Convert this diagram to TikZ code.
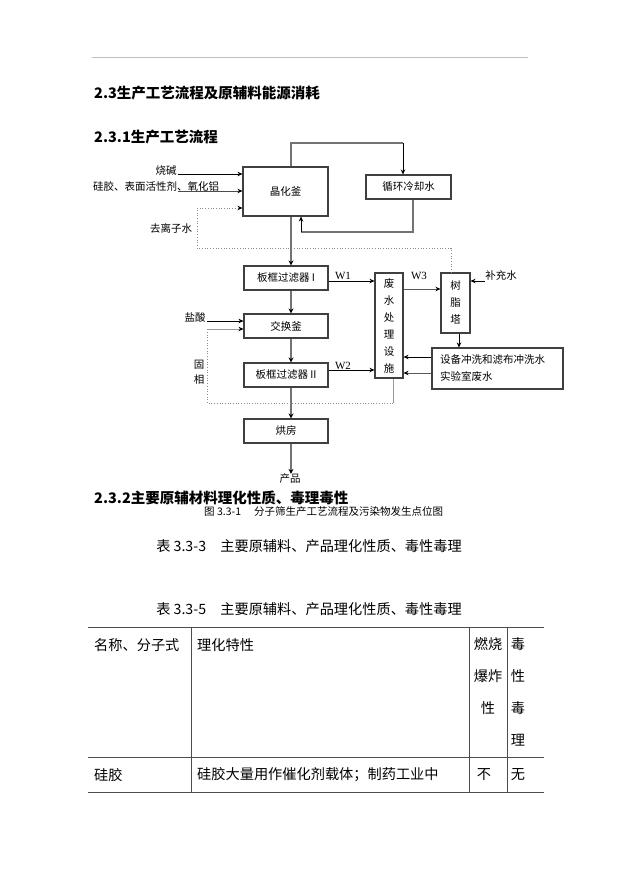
\documentclass[tikz,border=0pt]{standalone}
\usepackage{fontspec}
\setmainfont{Noto Sans CJK SC}
\newfontfamily\serifW{Liberation Serif}
\usetikzlibrary{arrows.meta}
\tikzset{
    procBox/.style={rectangle, draw=black!75, line width=1.1pt, minimum width=84pt, minimum height=24pt, inner sep=1pt, font=\fontsize{10.5}{12}\selectfont},
    tallBox/.style={rectangle, draw=black!75, line width=1.1pt, inner sep=1pt, align=center, font=\fontsize{10.5}{17}\selectfont},
    flowText/.style={inner sep=0pt, font=\fontsize{10.5}{12}\selectfont},
    arrow/.style={line width=0.7pt, -{Stealth[length=5pt, width=4.5pt, color=black]}},
    grayArrow/.style={draw=black!55, line width=1.6pt, -{Stealth[length=5pt, width=5pt, color=black]}},
    grayLine/.style={draw=black!55, line width=1.3pt},
    dotLine/.style={draw=black!45, line width=0.7pt, dotted},
    titleText/.style={inner sep=0pt, anchor=west, font=\fontsize{14.5}{18}\selectfont\bfseries},
    tableText/.style={inner sep=0pt, font=\fontsize{14.2}{32}\selectfont},
    tableLine/.style={draw=black!70, line width=1pt}
}

\begin{document}
\begin{tikzpicture}[x=1pt, y=-1pt]
    \useasboundingbox (0,0) rectangle (621,877);

    % page heading
    \draw [black!25, line width=0.8pt] (92,57) -- (528,57);
    \node (head23) [titleText] at (94,93) {2.3生产工艺流程及原辅料能源消耗};
    \node (head231) [titleText] at (94,137) {2.3.1生产工艺流程};

    % process boxes
    \node (crys) [procBox, minimum width=85pt, minimum height=49pt] at (285.5,191.5) {晶化釜};
    \node (cool) [procBox, minimum width=85pt] at (408.5,187) {循环冷却水};
    \node (filtA) [procBox] at (286,278) {板框过滤器 I};
    \node (exch) [procBox] at (286,326) {交换釜};
    \node (filtB) [procBox] at (286,375) {板框过滤器 II};
    \node (oven) [procBox] at (286,431) {烘房};
    \node (waste) [tallBox, minimum width=28pt, minimum height=105pt] at (389,325.5) {废\\水\\处\\理\\设\\施};
    \node (resin) [tallBox, minimum width=29pt, minimum height=60pt] at (455.5,303) {树\\脂\\塔};
    \node (wash) [procBox, minimum width=131pt, minimum height=41pt, text width=115pt, align=left, font=\fontsize{10.5}{17}\selectfont] at (497.5,368.5) {设备冲洗和滤布冲洗水\\实验室废水};

    % labels
    \node (soda) [flowText] at (166,171) {烧碱};
    \node (silica) [flowText] at (156,187) {硅胶、表面活性剂、氧化铝};
    \node (diw) [flowText] at (171,228) {去离子水};
    \node (hcl) [flowText] at (195,318) {盐酸};
    \node (solid) [flowText, align=center, font=\fontsize{10.5}{15}\selectfont] at (199,372) {固\\相};
    \node (fill) [flowText] at (501,275) {补充水};
    \node (prod) [flowText] at (290,479) {产品};
    \node (lw1) [flowText, font=\serifW\fontsize{11}{12}\selectfont] at (343,276) {W1};
    \node (lw2) [flowText, font=\serifW\fontsize{11}{12}\selectfont] at (343,366) {W2};
    \node (lw3) [flowText, font=\serifW\fontsize{11}{12}\selectfont] at (419,276) {W3};

    % bend points
    \coordinate (mx) at (291,0);
    \coordinate (topL) at (291,143);
    \coordinate (topR) at (403,143);
    \coordinate (retR) at (413,232);
    \coordinate (retL) at (301,232);
    \coordinate (sodaS) at (178,174);
    \coordinate (silS) at (178,191);
    \coordinate (dwR) at (451,248);
    \coordinate (dwL) at (197,248);
    \coordinate (dwT) at (197,208);
    \coordinate (hclS) at (207,321);
    \coordinate (sdT) at (207,329);
    \coordinate (sdL) at (207,403);
    \coordinate (sdR) at (393,403);
    \coordinate (fillS) at (485,281);

    % cooling water loop
    \draw [grayLine] (crys.north -| topL) -- (topL) -- (topR);
    \draw [arrow] (topR) -- (topR |- cool.north);
    \draw [grayLine] (cool.south -| retR) -- (retR) -- (retL);
    \draw [arrow] (retL) -- (retL |- crys.south);

    % raw materials
    \draw [arrow] (sodaS) -- (sodaS -| crys.west);
    \draw [arrow, draw=black!70] (silS) -- (silS -| crys.west);
    \draw [dotLine] (resin.north -| dwR) -- (dwR) -- (dwL) -- (dwT);
    \draw [arrow, dotLine] (dwT) -- (dwT -| crys.west);
    \draw [arrow] (hclS) -- (hclS -| exch.west);

    % main line
    \draw [grayArrow] (crys.south -| mx) -- (filtA.north -| mx);
    \draw [grayArrow] (filtA.south -| mx) -- (exch.north -| mx);
    \draw [grayArrow] (exch.south -| mx) -- (filtB.north -| mx);
    \draw [grayArrow] (filtB.south -| mx) -- (oven.north -| mx);
    \draw [grayArrow] (oven.south -| mx) -- (prod.north -| mx);

    % waste water
    \draw [arrow] ([yshift=-3pt]filtA.east) -- ([yshift=-3pt]filtA.east -| waste.west);
    \draw [arrow] ([yshift=5pt]filtB.east) -- ([yshift=5pt]filtB.east -| waste.west);
    \draw [arrow, draw=black!65] ([yshift=36.5pt]waste.east) -- ([yshift=36.5pt]waste.east -| resin.west);
    \draw [arrow] (fillS) -- (fillS -| resin.east);
    \draw [arrow] ([xshift=3.5pt]resin.south) -- ([xshift=3.5pt]resin.south |- wash.north);
    \draw [arrow] ([yshift=11.5pt]wash.west) -- ([yshift=11.5pt]wash.west -| waste.east);
    \draw [arrow, draw=black!65] ([yshift=-4.5pt]wash.west) -- ([yshift=-4.5pt]wash.west -| waste.east);
    \draw [draw=black!40, line width=0.8pt] (waste.south -| sdR) -- (sdR);
    \draw [dotLine] (sdR) -- (sdL) -- (sdT);
    \draw [arrow, draw=black!40] (sdT) -- (sdT -| exch.west);

    % captions
    \node (head232) [titleText] at (94,498) {2.3.2主要原辅材料理化性质、毒理毒性};
    \node (figCap) [flowText, anchor=west] at (204,512) {图 3.3-1\hspace{13pt}分子筛生产工艺流程及污染物发生点位图};
    \node (tabA) [tableText] at (309,546) {表 3.3-3\quad 主要原辅料、产品理化性质、毒性毒理};
    \node (tabB) [tableText] at (309,609) {表 3.3-5\quad 主要原辅料、产品理化性质、毒性毒理};

    % table
    \draw [tableLine] (88,627) -- (544,627);
    \draw [tableLine] (88,757) -- (544,757);
    \draw [tableLine] (88,792) -- (544,792);
    \foreach \cx in {191,469,507}
        \draw [tableLine] (\cx,627) -- (\cx,792);
    \node (cName) [tableText, anchor=west] at (94,645) {名称、分子式};
    \node (cProp) [tableText, anchor=west] at (197,645) {理化特性};
    \node (cFire) [tableText, anchor=north, align=center] at (488,637) {燃烧\\爆炸\\性};
    \node (cTox) [tableText, anchor=north, align=center] at (518,637) {毒\\性\\毒\\理};
    \node (rName) [tableText, anchor=west] at (94,775) {硅胶};
    \node (rProp) [tableText, anchor=west] at (197,775) {硅胶大量用作催化剂载体；制药工业中};
    \node (rFire) [tableText] at (484,775) {不};
    \node (rTox) [tableText] at (518,775) {无};
\end{tikzpicture}
\end{document}
